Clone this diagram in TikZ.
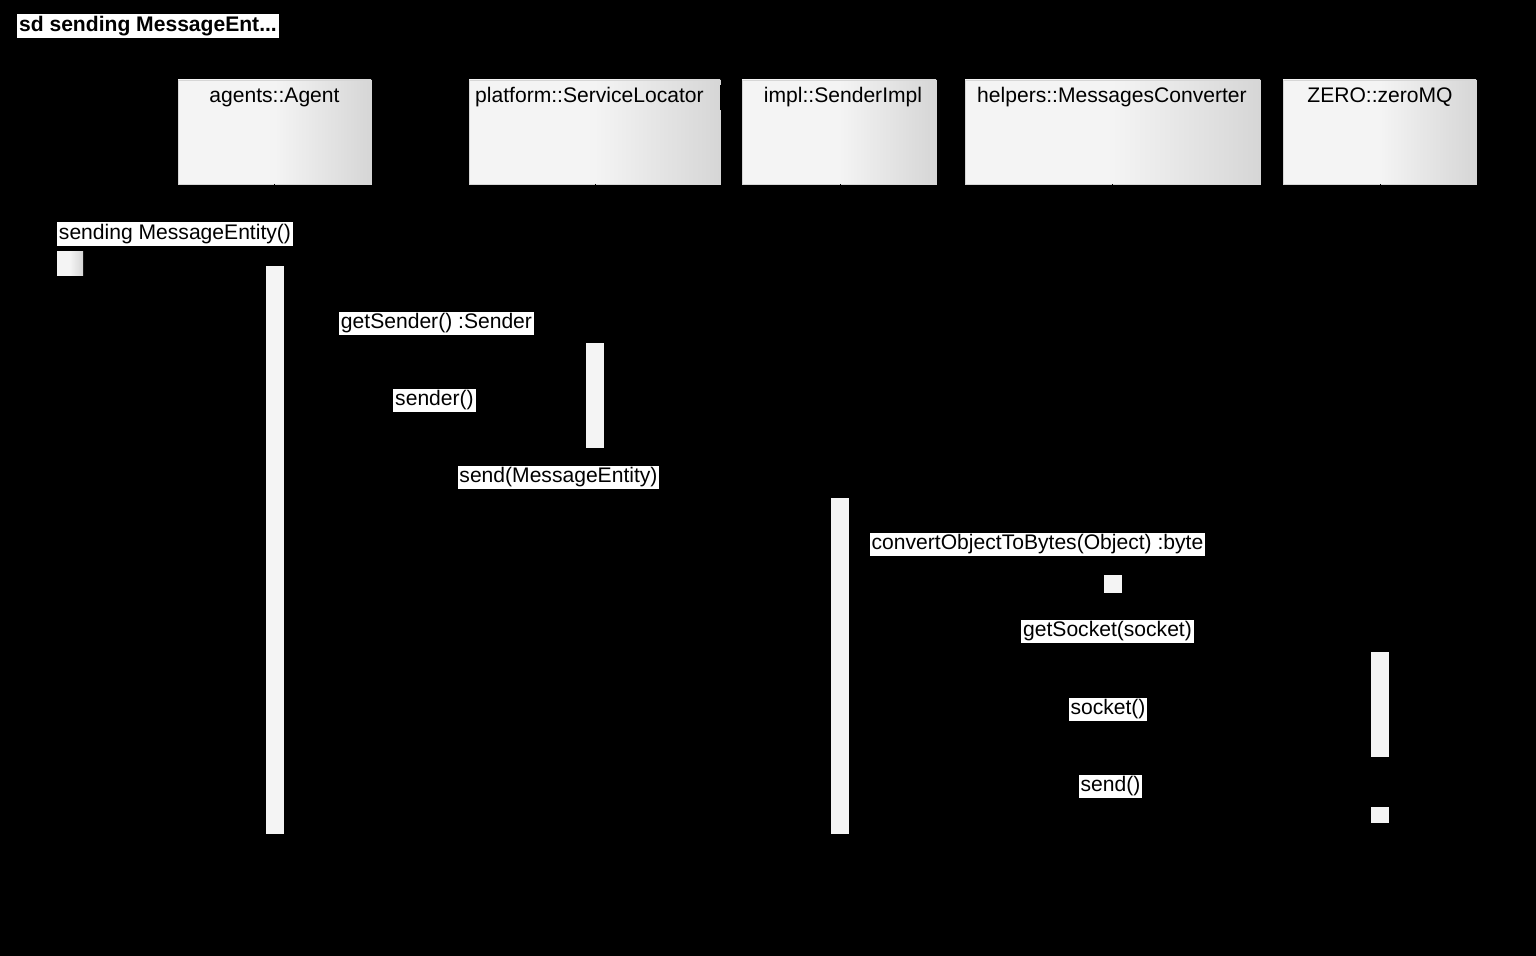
\documentclass[tikz,border=0pt]{standalone}
\usepackage{fontspec}
\setmainfont{Liberation Sans}
\usetikzlibrary{positioning}
\definecolor{boxleft}{RGB}{244,244,244}
\definecolor{boxright}{RGB}{214,214,214}
\definecolor{barfill}{RGB}{244,244,244}

\begin{document}
\begin{tikzpicture}[x=0.02cm, y=-0.02cm, >=latex,
  obj/.style={draw=boxright, left color=boxleft, right color=boxright, middle color=boxleft},
  bar/.style={fill=barfill, draw=none},
  msg/.style={fill=white, inner sep=1pt, font=\fontsize{12}{14}\selectfont},
  lifeline/.style={black, dashed}]

\fill[black] (0,0) rectangle (1536,956);
\useasboundingbox (0,0) rectangle (1536,956);

% frame title
\node [fill=white, inner sep=1pt, anchor=west, font=\bfseries\fontsize{12}{14}\selectfont] (title) at (17,26) {sd sending MessageEnt...};

% objects
\shade [obj] (178,80) rectangle (371,184);
\shade [obj] (469,80) rectangle (720,184);
\shade [obj] (742,80) rectangle (936,184);
\shade [obj] (965,80) rectangle (1260,184);
\shade [obj] (1283,80) rectangle (1476,184);
\node [font=\fontsize{12}{14}\selectfont] (agent) at (274.5,97) {agents::Agent};
\node [font=\fontsize{12}{14}\selectfont, anchor=west] (locator) at (469,97) {platform::ServiceLocator};
\node [font=\fontsize{12}{14}\selectfont] (impl) at (843,97) {impl::SenderImpl};
\node [font=\fontsize{12}{14}\selectfont] (conv) at (1112,97) {helpers::MessagesConverter};
\node [font=\fontsize{12}{14}\selectfont] (zmq) at (1380,97) {ZERO::zeroMQ};
% cover overflow of long name
\fill[black] (720,85) rectangle (741,110);

% lifelines (black)
\draw [lifeline] (274.5,184) -- (274.5,880);
\draw [lifeline] (595,184) -- (595,880);
\draw [lifeline] (840,184) -- (840,880);
\draw [lifeline] (1112.5,184) -- (1112.5,880);
\draw [lifeline] (1380,184) -- (1380,880);

% activations
\shade [obj, draw=none] (57,252) rectangle (83,276);
\fill [bar] (266,266) rectangle (284,834);
\fill [bar] (586,343) rectangle (604,448);
\fill [bar] (831,498) rectangle (849,834);
\fill [bar] (1104,575) rectangle (1122,593);
\fill [bar] (1371,652) rectangle (1389,757);
\fill [bar] (1371,807) rectangle (1389,823);

% messages
\node [msg] (m1) at (175,234) {sending MessageEntity()};
\node [msg] (m2) at (436.5,323.5) {getSender() :Sender};
\node [msg] (m3) at (434.5,400.5) {sender()};
\node [msg] (m4) at (558.5,477.5) {send(MessageEntity)};
\node [msg] (m5) at (1037.5,544.5) {convertObjectToBytes(Object) :byte};
\node [msg] (m6) at (1107.5,631.5) {getSocket(socket)};
\node [msg] (m7) at (1108,709.5) {socket()};
\node [msg] (m8) at (1110.5,786.5) {send()};

\end{tikzpicture}
\end{document}
